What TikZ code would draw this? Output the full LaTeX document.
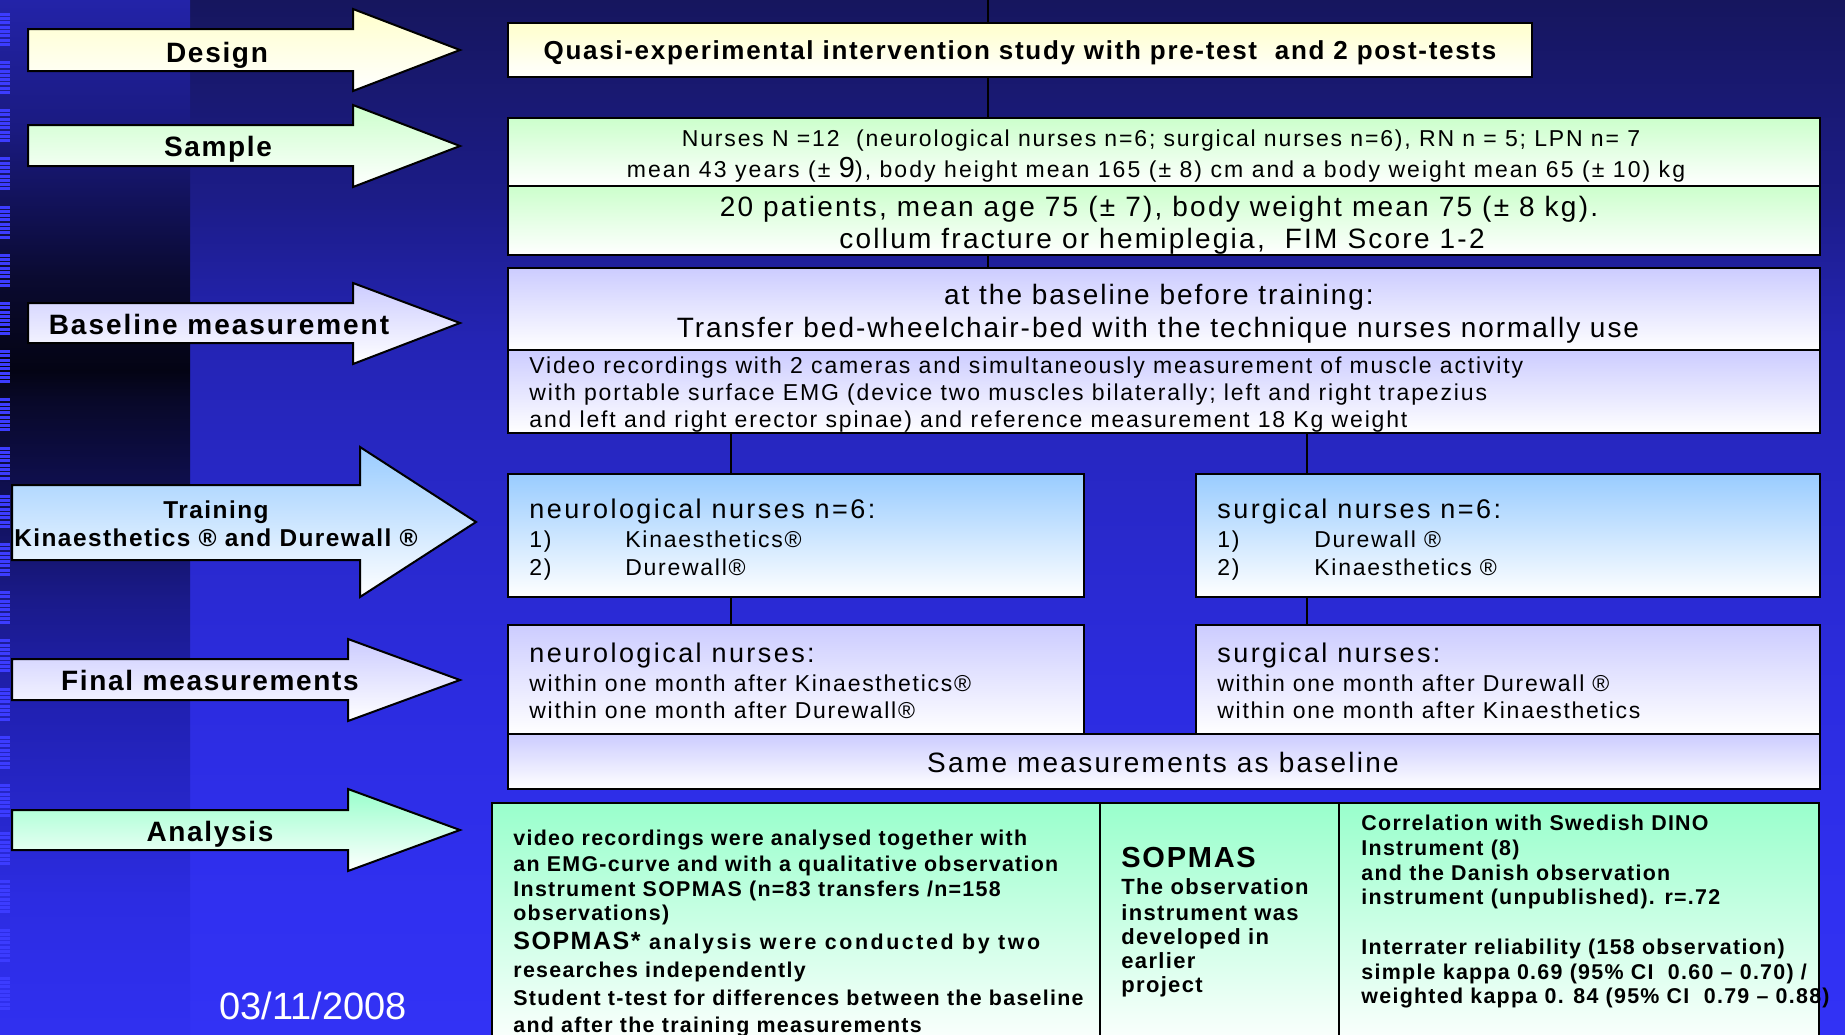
\documentclass[tikz,border=0pt]{standalone}
\usepackage{fontspec}
\setmainfont{Liberation Sans}
\newfontfamily\fS[LetterSpace=6]{Liberation Sans}
\newfontfamily\fP[LetterSpace=6.5]{Liberation Sans}
\newfontfamily\fQ[LetterSpace=7]{Liberation Sans}
\newfontfamily\fI[LetterSpace=7.5]{Liberation Sans}
\newfontfamily\fR[LetterSpace=8]{Liberation Sans}
\newfontfamily\fT[LetterSpace=9]{Liberation Sans}
\newfontfamily\fW[LetterSpace=12]{Liberation Sans}
\newfontfamily\fD{Liberation Sans}
\usetikzlibrary{fit}
\newcommand\fz[1]{\fontsize{#1}{#1}\selectfont}
\definecolor{cYel}{HTML}{FFFFCC}
\definecolor{cGrn}{HTML}{CCFFCC}
\definecolor{cLav}{HTML}{CCCCFF}
\definecolor{cSky}{HTML}{99CCFF}
\definecolor{cMint}{HTML}{99FFCC}
\definecolor{cTick}{HTML}{3C3CFF}
% right background colours
\definecolor{rA}{HTML}{3232F5}
\definecolor{rB}{HTML}{3030F0}
\definecolor{rC}{HTML}{2C2CE0}
\definecolor{rD}{HTML}{2828C8}
\definecolor{rE}{HTML}{2424B4}
\definecolor{rF}{HTML}{1C1C88}
\definecolor{rG}{HTML}{16165E}
% left background colours
\definecolor{lA}{HTML}{3030F0}
\definecolor{lB}{HTML}{2C2CE2}
\definecolor{lC}{HTML}{2626C8}
\definecolor{lD}{HTML}{2020B0}
\definecolor{lE}{HTML}{1A1A8A}
\definecolor{lF}{HTML}{101055}
\definecolor{lG}{HTML}{080828}
\definecolor{lH}{HTML}{040414}
\definecolor{lI}{HTML}{0A0A30}
\definecolor{lJ}{HTML}{12125A}
\definecolor{lK}{HTML}{1A1A80}
\definecolor{lL}{HTML}{2323A8}
\pgfdeclareverticalshading{rightbg}{100bp}{color(0bp)=(rA); color(25bp)=(rA); color(31.5bp)=(rB); color(41.2bp)=(rC); color(50.8bp)=(rD); color(58.6bp)=(rE); color(65.3bp)=(rF); color(75bp)=(rG); color(100bp)=(rG)}
\pgfdeclareverticalshading{leftbg}{100bp}{color(0bp)=(lA); color(25bp)=(lA); color(31.5bp)=(lB); color(36.3bp)=(lC); color(41.2bp)=(lD); color(46bp)=(lE); color(50.8bp)=(lF); color(55.7bp)=(lG); color(57.1bp)=(lH); color(61.5bp)=(lI); color(65.3bp)=(lJ); color(68.7bp)=(lK); color(75bp)=(lL); color(100bp)=(lL)}
\tikzset{
  box/.style={draw=black, line width=1pt, inner sep=0pt, outer sep=0pt, bottom color=white},
  arrowshape/.style={draw=black, line width=1pt, line join=miter, bottom color=white},
  conn/.style={draw=black, line width=1pt},
  lbl/.style={anchor=base, inner sep=0pt, font=\fS\bfseries\fz{14}},
  tl/.style={anchor=base west, inner sep=0pt},
  tc/.style={anchor=base, inner sep=0pt},
  rg/.style={font=\fR\fz{#1}},
  ttl/.style={font=\fT\fz{#1}},
  itm/.style={font=\fI\fz{#1}},
  bd/.style={font=\fS\bfseries\fz{#1}},
}
\begin{document}
\begin{tikzpicture}[x=0.5pt,y=-0.5pt]
\useasboundingbox (0,0) rectangle (1845,1034);
\clip (0,0) rectangle (1845,1034);
% background
\shade[shading=rightbg] (190,0) rectangle (1845,1034);
\shade[shading=leftbg] (0,0) rectangle (190,1034);
\foreach \k in {0,...,20}{
  \foreach \j in {0,...,7}{
    \fill[cTick] (0,{12.7+48.2*\k+4.3*\j}) rectangle (10,{12.7+48.2*\k+4.3*\j+3});
  }
}
% connector anchors
\coordinate (ctop) at (988,0);
\coordinate (cl) at (731,0);
\coordinate (cr) at (1307,0);
% boxes
\node[box, top color=cYel, fit={(508,23)(1532,77)}] (design) {};
\node[box, top color=cGrn, fit={(508,118)(1820,186)}] (nurses) {};
\node[box, top color=cGrn, fit={(508,186)(1820,255)}] (patients) {};
\node[box, top color=cLav, fit={(508,268)(1820,350)}] (base1) {};
\node[box, top color=cLav, fit={(508,350)(1820,433)}] (base2) {};
\node[box, top color=cSky, fit={(508,474)(1084,597)}] (neuro) {};
\node[box, top color=cSky, fit={(1196,474)(1820,597)}] (surg) {};
\node[box, top color=cLav, fit={(508,625)(1084,734)}] (neurofin) {};
\node[box, top color=cLav, fit={(1196,625)(1820,734)}] (surgfin) {};
\node[box, top color=cLav, fit={(508,734)(1820,789)}] (same) {};
\node[box, top color=cMint, fit={(492,803)(1100,1050)}] (an1) {};
\node[box, top color=cMint, fit={(1100,803)(1339,1050)}] (an2) {};
\node[box, top color=cMint, fit={(1339,803)(1819,1050)}] (an3) {};
% connectors
\draw[conn] (ctop) -- (design.north -| ctop);
\draw[conn] (design.south -| ctop) -- (nurses.north -| ctop);
\draw[conn] (patients.south -| ctop) -- (base1.north -| ctop);
\draw[conn] (base2.south -| cl) -- (neuro.north -| cl);
\draw[conn] (base2.south -| cr) -- (surg.north -| cr);
\draw[conn] (neuro.south -| cl) -- (neurofin.north -| cl);
\draw[conn] (surg.south -| cr) -- (surgfin.north -| cr);
% box texts
\node[tc, font=\fP\bfseries\fz{13}] (tDesign) at (1020,59) {Quasi-experimental intervention study with pre-test~ and 2 post-tests};
\node[tc, rg=11.5] (tN1) at (1161,146) {Nurses N =12~ (neurological nurses n=6; surgical nurses n=6), RN n = 5; LPN n= 7};
\node[tc, ttl=11.5] (tN2) at (1156,177) {mean 43 years (± {\fz{14.5}9}), body height mean 165 (± 8) cm and a body weight mean 65 (± 10) kg};
\node[tc, rg=14] (tP1) at (1159,216) {20 patients, mean age 75 (± 7), body weight mean 75 (± 8 kg).};
\node[tc, rg=14] (tP2) at (1162,248) {collum fracture or hemiplegia,~ FIM Score 1-2};
\node[tc, font=\fQ\fz{14}] (tB1) at (1159,304) {at the baseline before training:};
\node[tc, font=\fQ\fz{14}] (tB2) at (1158,337) {Transfer bed-wheelchair-bed with the technique nurses normally use};
\node[tl, rg=11.5] (tB3) at (529,373) {Video recordings with 2 cameras and simultaneously measurement of muscle activity};
\node[tl, rg=11.5] (tB4) at (529,400) {with portable surface EMG (device two muscles bilaterally; left and right trapezius};
\node[tl, rg=11.5] (tB5) at (529,427) {and left and right erector spinae) and reference measurement 18 Kg weight};
% training boxes
\node[tl, ttl=13.5] (tNe0) at (529,518) {neurological nurses n=6:};
\node[tl, itm=11.5] (tNe1) at (529,547) {1)};
\node[tl, itm=11.5] (tNe1b) at (625,547) {Kinaesthetics®};
\node[tl, itm=11.5] (tNe2) at (529,575) {2)};
\node[tl, itm=11.5] (tNe2b) at (625,575) {Durewall®};
\node[tl, ttl=13.5] (tSu0) at (1217,518) {surgical nurses n=6:};
\node[tl, itm=11.5] (tSu1) at (1217,547) {1)};
\node[tl, itm=11.5] (tSu1b) at (1314,547) {Durewall ®};
\node[tl, itm=11.5] (tSu2) at (1217,575) {2)};
\node[tl, itm=11.5] (tSu2b) at (1314,575) {Kinaesthetics ®};
% final boxes
\node[tl, ttl=13.5] (tNf0) at (529,662) {neurological nurses:};
\node[tl, itm=11.5] (tNf1) at (529,691) {within one month after Kinaesthetics®};
\node[tl, itm=11.5] (tNf2) at (529,718) {within one month after Durewall®};
\node[tl, ttl=13.5] (tSf0) at (1217,662) {surgical nurses:};
\node[tl, itm=11.5] (tSf1) at (1217,691) {within one month after Durewall ®};
\node[tl, itm=11.5] (tSf2) at (1217,718) {within one month after Kinaesthetics};
\node[tc, rg=14] (tSame) at (1163,772) {Same measurements as baseline};
% analysis
\node[tl, bd=10.7] (tA1) at (513,845) {video recordings were analysed together with};
\node[tl, bd=10.7] (tA2) at (513,871) {an EMG-curve and with a qualitative observation};
\node[tl, bd=10.7] (tA3) at (513,896) {Instrument SOPMAS (n=83 transfers /n=158};
\node[tl, bd=10.7] (tA4) at (513,920) {observations)};
\node[tl, font=\fW\bfseries\fz{10.7}] (tA5) at (513,949) {{\fS\fz{12.5}SOPMAS*} analysis were conducted by two};
\node[tl, bd=10.7] (tA6) at (513,977) {researches independently};
\node[tl, bd=10.7] (tA7) at (513,1005) {Student t-test for differences between the baseline};
\node[tl, bd=10.7] (tA8) at (513,1032) {and after the training measurements};
\node[tl, bd=14.5] (tC0) at (1121,867) {SOPMAS};
\node[tl, bd=11] (tC1) at (1121,894) {The observation};
\node[tl, bd=11] (tC2) at (1121,920) {instrument was};
\node[tl, bd=11] (tC3) at (1121,944) {developed in};
\node[tl, bd=11] (tC4) at (1121,968) {earlier};
\node[tl, bd=11] (tC5) at (1121,992) {project};
\node[tl, bd=10.7] (tD1) at (1361,830) {Correlation with Swedish DINO};
\node[tl, bd=10.7] (tD2) at (1361,855) {Instrument (8)};
\node[tl, bd=10.7] (tD3) at (1361,880) {and the Danish observation};
\node[tl, bd=10.7] (tD4) at (1361,904) {instrument (unpublished). r=.72};
\node[tl, bd=10.7] (tD5) at (1361,954) {Interrater reliability (158 observation)};
\node[tl, bd=10.7] (tD6) at (1361,979) {simple kappa 0.69 (95\% CI~ 0.60 – 0.70) /};
\node[tl, bd=10.7] (tD7) at (1361,1003) {weighted kappa 0. 84 (95\% CI~ 0.79 – 0.88)};
% arrows
\path[arrowshape, top color=cYel] (28,29) -- (353,29) -- (353,9) -- (460,50) -- (353,91) -- (353,71) -- (28,71) -- cycle;
\path[arrowshape, top color=cGrn] (28,125) -- (353,125) -- (353,105) -- (460,146) -- (353,187) -- (353,166) -- (28,166) -- cycle;
\path[arrowshape, top color=cLav] (28,303) -- (353,303) -- (353,283) -- (460,323) -- (353,364) -- (353,343) -- (28,343) -- cycle;
\path[arrowshape, top color=cSky] (12,485) -- (360,485) -- (360,447) -- (476,522) -- (360,597) -- (360,560) -- (12,560) -- cycle;
\path[arrowshape, top color=cLav] (12,659) -- (348,659) -- (348,639) -- (460,680) -- (348,721) -- (348,700) -- (12,700) -- cycle;
\path[arrowshape, top color=cMint] (12,810) -- (348,810) -- (348,789) -- (460,830) -- (348,871) -- (348,850) -- (12,850) -- cycle;
% arrow labels
\node[lbl] (lDesign) at (217,62) {Design};
\node[lbl] (lSample) at (218,156) {Sample};
\node[lbl, font=\fQ\bfseries\fz{14}] (lBase) at (219,334) {Baseline measurement};
\node[lbl, font=\fS\bfseries\fz{12.2}] (lTrain1) at (216,518) {Training};
\node[lbl, font=\fS\bfseries\fz{12.2}] (lTrain2) at (216,546) {Kinaesthetics ® and Durewall ®};
\node[lbl] (lFinal) at (210,690) {Final measurements};
\node[lbl] (lAnal) at (210,841) {Analysis};
% date
\node[tc, font=\fD\fz{19}, text=white] (date) at (313,1019) {03/11/2008};
\end{tikzpicture}
\end{document}
